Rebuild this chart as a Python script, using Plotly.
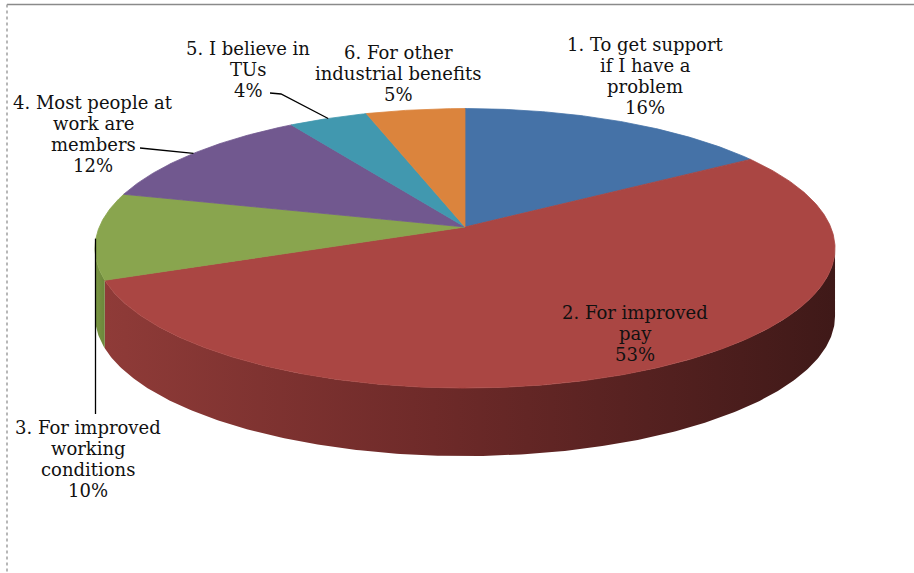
import numpy as np
import plotly.graph_objects as go

# ---------------- data ----------------
categories = [
    "1. To get support if I have a problem",
    "2. For improved pay",
    "3. For improved working conditions",
    "4. Most people at work are members",
    "5. I believe in TUs",
    "6. For other industrial benefits",
]
label_lines = [
    ["1. To get support", "if I have a", "problem"],
    ["2. For improved", "pay"],
    ["3. For improved", "working", "conditions"],
    ["4. Most people at", "work are", "members"],
    ["5. I believe in", "TUs"],
    ["6. For other", "industrial benefits"],
]
values = [16, 53, 10, 12, 4, 5]

# ---------------- style / layout ----------------
top_colors = ["#4572A7", "#AA4643", "#89A54E", "#71588F", "#4198AF", "#DB843D"]
side_scales = [
    [[0, "#3A5F8C"], [1, "#1F3550"]],
    [[0, "#8F3B38"], [0.45, "#6E2A29"], [1, "#3F1918"]],
    [[0, "#7A9643"], [1, "#6C873B"]],
    [[0, "#5E4978"], [1, "#3A2D4A"]],
    [[0, "#357F92"], [1, "#214F5B"]],
    [[0, "#B86D32"], [1, "#7A481F"]],
]
# label placement: (center x, first-line y) in pixel space
label_pos = [(645, 44), (635, 312), (88, 427), (93, 102), (248, 48), (398, 52)]
LINE_GAP = 21
# leader lines: slice index -> label-side anchor points
leaders = {4: [(270, 93), (281, 94)], 3: [(140, 148), (150, 149)], 2: [(95.5, 414)]}

CX, CY = 465.0, 227.0     # projected pie centre
A, B = 365.7, 136.5       # projection scale
K = 0.1525                # perspective factor
DEPTH = 68.0              # pie thickness
W, H = 914, 573
FONT = "DejaVu Serif"
FSIZE = 18


def proj(theta_deg, dy=0.0):
    t = np.radians(theta_deg)
    u, v = np.sin(t), np.cos(t)
    w = 1 + K * v
    return CX + A * u / w, CY - B * v / w + dy


total = float(sum(values))
bounds = np.concatenate([[0], np.cumsum(values)]) / total * 360.0
vis_a = np.degrees(np.arccos(-K))
vis_b = 360 - vis_a

fig = go.Figure()

# side walls (front visible part)
for i in range(len(values)):
    a, b = max(bounds[i], vis_a), min(bounds[i + 1], vis_b)
    if b <= a:
        continue
    th = np.linspace(a, b, max(int((b - a) * 2), 4))
    xt, yt = proj(th)
    xb, yb = proj(th[::-1], DEPTH)
    xs = np.concatenate([xt, xb, xt[:1]])
    ys = np.concatenate([yt, yb, yt[:1]])
    fig.add_trace(go.Scatter(
        x=xs, y=ys, mode="lines", fill="toself",
        fillgradient=dict(type="horizontal", colorscale=side_scales[i]),
        line=dict(width=0), hoverinfo="skip", showlegend=False))

# top faces
for i in range(len(values)):
    a, b = bounds[i], bounds[i + 1]
    th = np.linspace(a, b, max(int((b - a) * 2), 4))
    xt, yt = proj(th)
    xs = np.concatenate([[CX], xt, [CX]])
    ys = np.concatenate([[CY], yt, [CY]])
    fig.add_trace(go.Scatter(
        x=xs, y=ys, mode="lines", fill="toself", fillcolor=top_colors[i],
        line=dict(width=0.8, color=top_colors[i]), hoverinfo="skip",
        showlegend=False, name=categories[i]))

# leader lines
for i, pts in leaders.items():
    mid = (bounds[i] + bounds[i + 1]) / 2
    rx, ry = proj(mid)
    xs = [p[0] for p in pts]
    ys = [p[1] for p in pts]
    if len(pts) == 1:
        xs.append(xs[0]); ys.append(ry + 3)
    else:
        xs.append(rx); ys.append(ry)
    fig.add_trace(go.Scatter(x=xs, y=ys, mode="lines",
                             line=dict(color="black", width=1.3),
                             hoverinfo="skip", showlegend=False))

# labels
annotations = []
for i in range(len(values)):
    pct = f"{round(values[i] / total * 100)}%"
    lines = label_lines[i] + [pct]
    x0, y0 = label_pos[i]
    for j, ln in enumerate(lines):
        annotations.append(dict(
            x=x0, y=y0 + j * LINE_GAP, xref="x", yref="y", text=ln,
            showarrow=False, xanchor="center", yanchor="middle",
            font=dict(family=FONT, size=FSIZE, color="#111111")))

fig.update_layout(
    width=W, height=H, margin=dict(l=0, r=0, t=0, b=0),
    paper_bgcolor="white", plot_bgcolor="white",
    xaxis=dict(range=[0, W], visible=False, fixedrange=True),
    yaxis=dict(range=[H, 0], visible=False, fixedrange=True),
    annotations=annotations,
    shapes=[
        dict(type="line", xref="x", yref="y", x0=7, y0=4.5, x1=W, y1=4.5,
             line=dict(color="#8a8a8a", width=1.5)),
        dict(type="line", xref="x", yref="y", x0=7, y0=4.5, x1=7, y1=H,
             line=dict(color="#a0a0a0", width=1.5, dash="dot")),
    ],
)

fig.write_html("out.html")
